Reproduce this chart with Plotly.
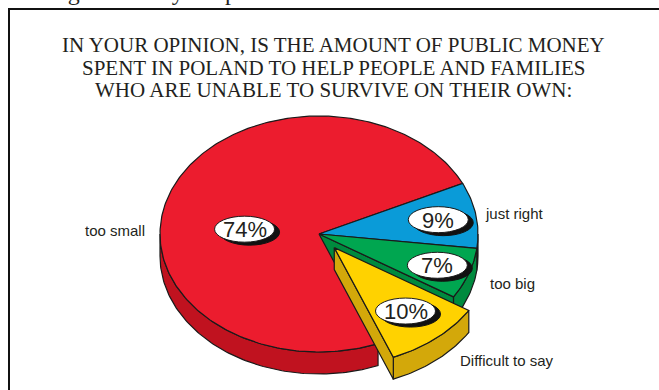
import numpy as np
import plotly.graph_objects as go

# ---------------- data ----------------
categories = ["too small", "just right", "too big", "Difficult to say"]
values = [74, 9, 7, 10]
pct_labels = ["74%", "9%", "7%", "10%"]
title_lines = [
    "IN YOUR OPINION, IS THE AMOUNT OF PUBLIC MONEY",
    "SPENT IN POLAND TO HELP PEOPLE AND FAMILIES",
    "WHO ARE UNABLE TO SURVIVE ON THEIR OWN:",
]

# ---------------- style ----------------
W, H = 659, 390
CX, CY, RX, RY, DEPTH = 319, 234, 159, 118, 22
START = 68.2            # screen angle (deg, clockwise) where first slice starts
TOP_COL = ["#EC1C2E", "#0A9BD8", "#00A650", "#FFD200"]
SIDE_COL = ["#C0121F", "#0878AA", "#008A3E", "#D3A80A"]
EXPLODE = [0, 0, 0, 0.15]
LABEL_F = [0.47, 0.76, 0.79, 0.70]
LABEL_ANG_OVERRIDE = {0: 185}
CAT_POS = {  # (x, y, anchor)
    "too small": (147, 230, "right"),
    "just right": (483, 213, "left"),
    "too big": (488, 283, "left"),
    "Difficult to say": (458, 360, "left"),
}
OUT = "#1a1a1a"
TXT = "#231F20"

fig = go.Figure()

total = float(sum(values))
spans = []
a = START
for v in values:
    b = a + 360.0 * v / total
    spans.append((a, b))
    a = b


def pt(t, ox=0.0, oy=0.0, dz=0.0):
    r = np.radians(t)
    return CX + ox + RX * np.cos(r), CY + oy + RY * np.sin(r) + dz


def offset(i):
    a0, a1 = spans[i]
    m = np.radians((a0 + a1) / 2)
    return EXPLODE[i] * RX * np.cos(m), EXPLODE[i] * RY * np.sin(m)


def arc(a0, a1, ox, oy, dz=0.0):
    n = max(2, int(abs(a1 - a0) / 1.0) + 1)
    ts = np.linspace(a0, a1, n)
    xs, ys = pt(ts, ox, oy, dz)
    return list(xs), list(ys)


def poly(xs, ys, fill):
    fig.add_trace(go.Scatter(
        x=xs + [xs[0]], y=ys + [ys[0]], mode="lines", fill="toself",
        fillcolor=fill, line=dict(color=OUT, width=1.2),
        hoverinfo="skip", showlegend=False))


def top(i):
    a0, a1 = spans[i]
    ox, oy = offset(i)
    xs, ys = arc(a0, a1, ox, oy)
    poly([CX + ox] + xs, [CY + oy] + ys, TOP_COL[i])


def side(i):
    a0, a1 = spans[i]
    ox, oy = offset(i)
    for k in (-360, 0, 360):
        lo, hi = max(a0, 0 + k), min(a1, 180 + k)
        if hi > lo:
            xt, yt = arc(lo, hi, ox, oy)
            xb, yb = arc(hi, lo, ox, oy, DEPTH)
            poly(xt + xb, yt + yb, SIDE_COL[i])


def face(i, which):
    a0, a1 = spans[i]
    ox, oy = offset(i)
    t = a1 if which == "end" else a0
    c = np.cos(np.radians(t))
    visible = c > 0 if which == "end" else c < 0
    if not visible:
        return
    x1, y1 = pt(t, ox, oy)
    x2, y2 = pt(t, ox, oy, DEPTH)
    poly([CX + ox, x1, x2, CX + ox], [CY + oy, y1, y2, CY + oy + DEPTH], SIDE_COL[i])


n = len(values)
exploded = [i for i in range(n) if EXPLODE[i] > 0]
normal = [i for i in range(n) if EXPLODE[i] == 0]

for e in exploded:
    prev_i, next_i = (e - 1) % n, (e + 1) % n
    if EXPLODE[prev_i] == 0:
        face(prev_i, "end")
    if EXPLODE[next_i] == 0:
        face(next_i, "start")
for i in normal:
    side(i)
for i in normal:
    top(i)
for e in exploded:
    side(e)
    face(e, "start")
    face(e, "end")
    top(e)

shapes = []
annotations = []

# percentage bubbles
EW, EH = 60, 26
for i in range(n):
    a0, a1 = spans[i]
    ang = LABEL_ANG_OVERRIDE.get(i, (a0 + a1) / 2)
    ox, oy = offset(i)
    lx, ly = pt(ang, ox, oy)
    lx = CX + ox + (lx - CX - ox) * LABEL_F[i]
    ly = CY + oy + (ly - CY - oy) * LABEL_F[i]
    shapes.append(dict(type="circle", xref="x", yref="y",
                       x0=lx - EW / 2 + 5, x1=lx + EW / 2 + 5,
                       y0=ly - EH / 2 + 3, y1=ly + EH / 2 + 3,
                       fillcolor="#111111", line=dict(color="#111111", width=1)))
    shapes.append(dict(type="circle", xref="x", yref="y",
                       x0=lx - EW / 2, x1=lx + EW / 2,
                       y0=ly - EH / 2, y1=ly + EH / 2,
                       fillcolor="white", line=dict(color=OUT, width=1)))
    annotations.append(dict(x=lx, y=ly + 0.5, xref="x", yref="y", text=pct_labels[i],
                            showarrow=False, xanchor="center", yanchor="middle",
                            font=dict(family="Liberation Sans, Arial", size=22, color=TXT)))

# category labels
for c in categories:
    x, y, anc = CAT_POS[c]
    annotations.append(dict(x=x, y=y, xref="x", yref="y", text=c, showarrow=False,
                            xanchor=anc, yanchor="middle",
                            font=dict(family="Liberation Sans, Arial", size=15, color=TXT)))

# title
for k, line in enumerate(title_lines):
    annotations.append(dict(x=333, y=45 + 22.5 * k, xref="x", yref="y", text=line,
                            showarrow=False, xanchor="center", yanchor="middle",
                            font=dict(family="Liberation Serif, Times New Roman", size=21, color=TXT)))

# remnant of the page text above the box (cut off in the source too)
annotations.append(dict(x=47, y=7, xref="x", yref="y", text="ing cases they are p",
                        showarrow=False, xanchor="left", yanchor="bottom",
                        font=dict(family="Liberation Serif", size=24, color=TXT)))

# frame
shapes.append(dict(type="rect", xref="x", yref="y", x0=9, y0=9, x1=W + 20, y1=H + 20,
                   line=dict(color="#111111", width=2), fillcolor="rgba(0,0,0,0)", layer="below"))

fig.update_layout(
    width=W, height=H, autosize=False,
    margin=dict(l=0, r=0, t=0, b=0),
    paper_bgcolor="white", plot_bgcolor="white",
    xaxis=dict(range=[0, W], visible=False, fixedrange=True),
    yaxis=dict(range=[H, 0], visible=False, fixedrange=True),
    shapes=shapes, annotations=annotations, showlegend=False,
)
fig.write_html("out.html")
